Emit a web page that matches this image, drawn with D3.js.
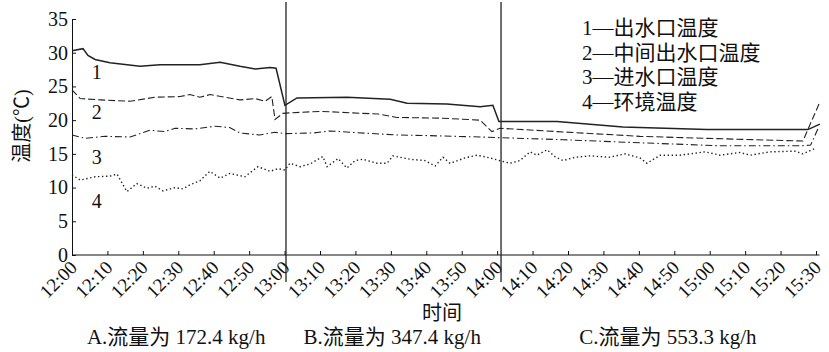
<!DOCTYPE html>
<html>
<head>
<meta charset="utf-8">
<script src="https://cdn.jsdelivr.net/npm/d3@7"></script>
<style>
  body { margin: 0; background: #fff; }
  text { font-family: "Liberation Serif", "Noto Sans CJK SC", serif; fill: #111; }
</style>
</head>
<body>
<svg width="829" height="352"></svg>
<script>
// 时间用 12:00 以后的分钟数
const tickLabels = ["12:00","12:10","12:20","12:30","12:40","12:50","13:00","13:10","13:20","13:30","13:40","13:50","14:00",
  "14:10","14:20","14:30","14:40","14:50","15:00","15:10","15:20","15:30"];
const yTicks = [0, 5, 10, 15, 20, 25, 30, 35];

// 1 出水口温度
const t1 = [0, 3.1, 4.5, 6.5, 10.7, 19.2, 24.8, 36.1, 41.8, 47.4, 51.7, 55.9, 57.6, 60.1, 63.5, 77.6, 89.8, 94.6, 105.8, 115.2, 118.8, 120.5, 136.9, 155.5, 179.2, 193.3, 207.7, 211.1];
const v1 = [30.3, 30.6, 29.6, 29.0, 28.5, 28.0, 28.2, 28.2, 28.6, 28.0, 27.6, 27.8, 27.7, 22.2, 23.3, 23.4, 23.1, 22.5, 22.4, 22.0, 22.2, 19.8, 19.8, 19.0, 18.6, 18.6, 18.6, 19.4];
// 2 中间出水口温度
const t2 = [0, 2.3, 8, 16.4, 23.4, 30.5, 33.3, 36.1, 39, 47.4, 51.7, 54.5, 56.4, 57.3, 59.5, 62, 70.3, 86.4, 91.7, 104, 115.2, 118.5, 120.8, 136.9, 160.3, 179.2, 206.3, 211.1];
const v2 = [24.5, 23.2, 23.0, 22.8, 23.4, 23.5, 23.8, 23.4, 23.8, 23.0, 23.2, 22.8, 23.5, 20.1, 21.0, 21.1, 21.3, 20.9, 20.4, 20.3, 20.0, 18.3, 18.8, 18.3, 17.6, 17.3, 16.9, 22.7];
// 3 进水口温度
const t3 = [0, 3.7, 9.3, 16.4, 22, 26.2, 29.1, 34.7, 40.3, 44.5, 47.4, 53, 57.3, 60.1, 68.1, 72.8, 78.4, 91.7, 101, 115.2, 120.8, 138.6, 157.5, 182.9, 205.6, 208.5, 210.6];
const v3 = [17.8, 17.3, 17.6, 17.5, 18.5, 18.3, 18.8, 18.7, 19.1, 18.9, 18.1, 17.8, 18.2, 18.0, 18.1, 18.4, 18.2, 17.8, 17.7, 17.5, 17.4, 17.1, 16.7, 16.2, 16.2, 16.3, 18.8];
// 4 环境温度
const t4 = [0, 2.3, 6.5, 10.7, 12.7, 15.5, 18.3, 21.2, 23.4, 25.7, 29.1, 31.3, 33.3, 36.1, 38.9, 41.8, 44.6, 48.8, 52.5, 55.9, 58.1, 60.1, 61.5, 64.4, 67.2, 70.8, 72, 75.1, 77.6, 79.9, 82.1, 86.1, 88.9, 90.6, 95.4, 99.6, 102.5, 104.7, 106.7, 108.9, 110.9, 114.3, 118, 120, 123.6, 126.4, 129.3, 131.2, 134.1, 136.3, 138.6, 142, 146.2, 151.8, 156.1, 160.3, 162.3, 166, 171.6, 178.7, 182.9, 188.5, 191.4, 197, 204.1, 206.3, 209.7];
const v4 = [11.9, 11.1, 11.6, 11.7, 12.0, 9.4, 10.6, 9.9, 10.2, 9.5, 10.0, 9.8, 10.4, 11.0, 12.4, 11.4, 12.1, 11.6, 13.1, 12.4, 12.8, 12.6, 13.6, 13.1, 13.5, 14.6, 13.1, 14.3, 12.9, 14.0, 14.2, 13.6, 13.6, 14.7, 14.2, 14.0, 13.2, 14.5, 13.6, 14.0, 14.4, 14.8, 14.4, 14.1, 13.6, 14.0, 15.3, 14.8, 15.6, 14.6, 14.0, 14.5, 14.7, 14.5, 15.0, 14.4, 13.6, 14.8, 14.8, 15.3, 14.8, 15.2, 14.8, 15.3, 15.4, 15.0, 15.8];

const legendNames = ["1—出水口温度", "2—中间出水口温度", "3—进水口温度", "4—环境温度"];
const seriesTags = ["1", "2", "3", "4"];
const tagTime = [7, 7, 7, 7];
const tagValue = [27.2, 21.2, 14.6, 8.0];
const dividers = [60.4, 121.1];
const stageNames = ["A.流量为 172.4 kg/h", "B.流量为 347.4 kg/h", "C.流量为 553.3 kg/h"];
const stageCenter = [29.4, 90.4, 168.2];

const FONT = '"Liberation Serif", "Noto Sans CJK SC", serif';
const svg = d3.select("svg");
const margin = { left: 72, right: 13, top: 19, bottom: 97 };
const W = +svg.attr("width"), H = +svg.attr("height");

const x = d3.scaleLinear().domain([0, 210]).range([margin.left, W - margin.right]);
const y = d3.scaleLinear().domain([0, 35]).range([H - margin.bottom, margin.top]);

// 坐标轴
const xAxis = svg.append("g")
  .attr("transform", `translate(0,${y(0)})`)
  .call(d3.axisBottom(x).tickValues(d3.range(0, 211, 10)).tickSizeInner(-4).tickSizeOuter(0).tickFormat((d, i) => tickLabels[i]))
  .attr("font-family", FONT);
xAxis.select(".domain").attr("stroke", "#111").attr("d", `M${x(0)},0H${x(211)}`);
xAxis.selectAll(".tick line").attr("stroke", "#111");
xAxis.selectAll(".tick text")
  .attr("font-size", 19)
  .attr("text-anchor", "end")
  .attr("y", 0).attr("dy", "0.35em")
  .attr("transform", "translate(1,9) rotate(-45)");

const yAxis = svg.append("g")
  .attr("transform", `translate(${x(0)},0)`)
  .call(d3.axisLeft(y).tickValues(yTicks).tickSizeInner(-4).tickSizeOuter(0).tickPadding(4))
  .attr("font-family", FONT);
yAxis.select(".domain").attr("stroke", "#111");
yAxis.selectAll(".tick line").attr("stroke", "#111");
yAxis.selectAll(".tick text").attr("font-size", 20);

// 分段竖线
svg.append("g").selectAll("line")
  .data(dividers)
  .join("line")
  .attr("x1", (d) => x(d)).attr("x2", (d) => x(d))
  .attr("y1", 2).attr("y2", 282)
  .attr("stroke", "#222").attr("stroke-width", 1.3);

// 曲线
const line = d3.line().x((d) => x(d[0])).y((d) => y(d[1]));
const series = [
  { t: t1, v: v1, dash: null, w: 1.5 },
  { t: t2, v: v2, dash: "7,3", w: 1.1 },
  { t: t3, v: v3, dash: "7,3,1.5,3", w: 1.1 },
  { t: t4, v: v4, dash: "1.4,2.6", w: 1.4 },
];
svg.append("g").selectAll("path")
  .data(series)
  .join("path")
  .attr("fill", "none")
  .attr("stroke", "#222")
  .attr("stroke-width", (d) => d.w)
  .attr("stroke-dasharray", (d) => d.dash)
  .attr("d", (d) => line(d.t.map((t, i) => [t, d.v[i]])));

// 曲线编号
svg.append("g").selectAll("text")
  .data(seriesTags)
  .join("text")
  .attr("x", (d, i) => x(tagTime[i]))
  .attr("y", (d, i) => y(tagValue[i]))
  .attr("dy", "0.35em")
  .attr("text-anchor", "middle")
  .attr("font-size", 20)
  .text((d) => d);

// 图例
svg.append("g").selectAll("text")
  .data(legendNames)
  .join("text")
  .attr("x", 582)
  .attr("y", (d, i) => 28 + i * 24.5)
  .attr("dy", "0.35em")
  .attr("font-size", 21)
  .text((d) => d);

// 轴标题
svg.append("text")
  .attr("transform", "translate(22,126) rotate(-90)")
  .attr("text-anchor", "middle")
  .attr("dy", "0.35em")
  .attr("font-size", 20)
  .text("温度(℃)");
svg.append("text")
  .attr("x", 442).attr("y", 313)
  .attr("text-anchor", "middle")
  .attr("dy", "0.35em")
  .attr("font-size", 20)
  .text("时间");

// 分段说明
svg.append("g").selectAll("text")
  .data(stageNames)
  .join("text")
  .attr("x", (d, i) => x(stageCenter[i]))
  .attr("y", 337)
  .attr("dy", "0.35em")
  .attr("text-anchor", "middle")
  .attr("font-size", 21)
  .text((d) => d);
</script>
</body>
</html>
